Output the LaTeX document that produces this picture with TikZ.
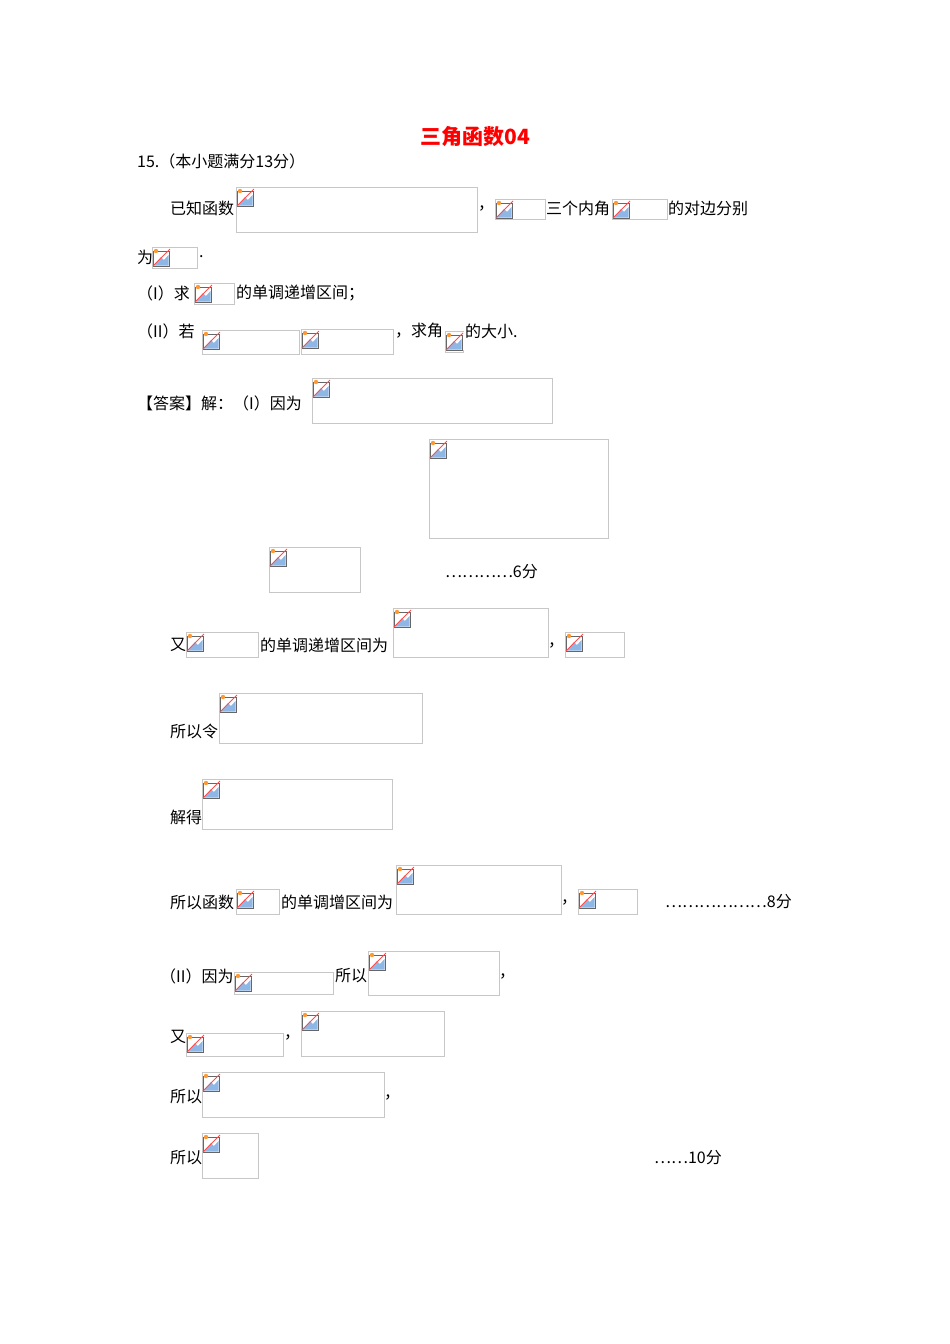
\documentclass[tikz,border=0pt]{standalone}
\usepackage{fontspec}
\setmainfont{Liberation Serif}
\newfontfamily\cjk{Noto Sans CJK SC}
\begin{document}
\begin{tikzpicture}[x=1pt,y=-1pt,
  txt/.style={anchor=west,inner sep=0pt,font=\cjk\fontsize{16}{16}\selectfont},
  pbox/.style={draw=black!22,line width=0.8pt}]
\useasboundingbox (0,0) rectangle (950,1344);
\newcommand{\ph}[5]{%
  \draw[pbox] (#2,#3) rectangle (#4,#5);
  \node[inner sep=0pt,minimum size=0pt] (#1) at (#2,#3) {};
  \begin{scope}[shift={(#2,#3)}]
    \fill[white] (1,1) rectangle (19,19);
    \draw[black!60,line width=0.6pt] (1.5,4) rectangle (17,19);
    \fill[orange!80] (4,4) circle (2.2);
    \fill[cyan!60!blue!45] (2,18.5) -- (9,10) -- (12,13) -- (16.5,8) -- (16.5,18.5) -- cycle;
    \draw[red!70,line width=1pt] (1,19) -- (18,2);
  \end{scope}}
\node[inner sep=0pt,text=red,font=\cjk\bfseries\fontsize{21}{21}\selectfont] (title) at (475,137) {三角函数04};
\node[txt] (t1) at (137,161) {15.（本小题满分13分）};
\node[txt] (t2) at (170,208) {已知函数};
\ph{b1}{236}{187}{477}{232}
\node[txt] (t3) at (478,208) {，};
\ph{b2}{495}{199}{545}{219}
\node[txt] (t4) at (546,208) {三个内角};
\ph{b3}{612}{199}{667}{219}
\node[txt] (t5) at (668,208) {的对边分别};
\node[txt] (t6) at (137,257) {为};
\ph{b4}{152}{247}{197}{268}
\node[txt] (t7) at (199,257) {.};
\node[txt] (t8) at (137,293) {（I）求};
\ph{b5}{194}{283}{234}{304}
\node[txt] (t9) at (236,293) {的单调递增区间；};
\node[txt] (t10) at (137,331) {（II）若};
\ph{b6}{202}{330}{299}{354}
\ph{b7}{301}{329}{393}{354}
\node[txt] (t11) at (395,331) {，求角};
\ph{b8}{445}{331}{463}{352}
\node[txt] (t12) at (465,331) {的大小.};
\node[txt] (t13) at (137,403) {【答案】解：（I）因为};
\ph{b9}{312}{378}{552}{423}
\ph{b10}{429}{439}{608}{538}
\ph{b11}{269}{547}{360}{592}
\node[txt] (t14) at (445,572) {…………6分};
\node[txt] (t15) at (170,645) {又};
\ph{b12}{186}{632}{258}{657}
\node[txt] (t16) at (260,645) {的单调递增区间为};
\ph{b13}{393}{608}{548}{657}
\node[txt] (t17) at (548,645) {，};
\ph{b14}{565}{632}{624}{657}
\node[txt] (t18) at (170,731) {所以令};
\ph{b15}{219}{693}{422}{743}
\node[txt] (t19) at (170,817) {解得};
\ph{b16}{202}{779}{392}{829}
\node[txt] (t20) at (170,902) {所以函数};
\ph{b17}{236}{889}{279}{914}
\node[txt] (t21) at (281,902) {的单调增区间为};
\ph{b18}{396}{865}{561}{914}
\node[txt] (t22) at (561,902) {，};
\ph{b19}{578}{889}{637}{914}
\node[txt] (t23) at (665,902) {………………8分};
\node[txt] (t24) at (160,976) {（II）因为};
\ph{b20}{234}{972}{333}{994}
\node[txt] (t25) at (335,976) {所以};
\ph{b21}{368}{951}{499}{995}
\node[txt] (t26) at (499,976) {，};
\node[txt] (t27) at (170,1037) {又};
\ph{b22}{186}{1033}{283}{1056}
\node[txt] (t28) at (284,1037) {，};
\ph{b23}{301}{1011}{444}{1056}
\node[txt] (t29) at (170,1097) {所以};
\ph{b24}{202}{1072}{384}{1117}
\node[txt] (t30) at (384,1097) {，};
\node[txt] (t31) at (170,1158) {所以};
\ph{b25}{202}{1133}{258}{1178}
\node[txt] (t32) at (654,1158) {……10分};
\end{tikzpicture}
\end{document}
